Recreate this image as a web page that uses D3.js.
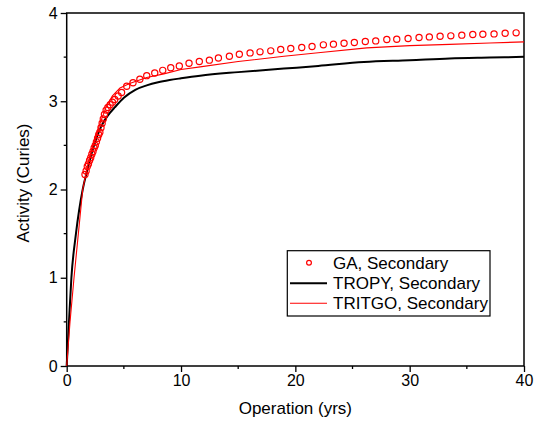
<!DOCTYPE html>
<html>
<head>
<meta charset="utf-8">
<script src="https://cdn.jsdelivr.net/npm/d3@7"></script>
<style>
  body { margin: 0; background: #fff; }
  text { font-family: "Liberation Sans", Arial, sans-serif; fill: #000; }
</style>
</head>
<body>
<svg id="chart" width="536" height="421"></svg>
<script>
// GA, Secondary (circles)
const gaYears = [1.6, 1.7, 1.8, 1.9, 2.0, 2.1, 2.2, 2.3, 2.4, 2.5, 2.6, 2.7, 2.8, 2.9, 3.0, 3.1, 3.2, 3.3, 3.45, 3.6,
  3.8, 4.0, 4.2, 4.5, 4.8, 5.25, 5.8, 6.4, 7.0, 7.7, 8.4, 9.1, 9.85, 10.7, 11.6,
  12.48, 13.27, 14.23, 15.1, 16.04, 16.91, 17.85, 18.72, 19.6, 20.56, 21.46, 22.45, 23.33, 24.26, 25.16,
  26.12, 27.03, 28.0, 28.87, 29.86, 30.82, 31.72, 32.66, 33.6, 34.56, 35.52, 36.4, 37.38, 38.35, 39.31];
const gaActivity = [2.17, 2.21, 2.26, 2.29, 2.33, 2.36, 2.40, 2.43, 2.47, 2.50, 2.54, 2.58, 2.62, 2.65, 2.70, 2.75, 2.80, 2.85, 2.90, 2.93,
  2.96, 2.99, 3.02, 3.06, 3.10, 3.17, 3.21, 3.25, 3.29, 3.32, 3.35, 3.38, 3.40, 3.43, 3.45,
  3.466, 3.49, 3.51, 3.533, 3.548, 3.56, 3.571, 3.586, 3.598, 3.609, 3.62, 3.639, 3.647, 3.658, 3.666,
  3.677, 3.684, 3.70, 3.703, 3.711, 3.722, 3.729, 3.737, 3.741, 3.749, 3.756, 3.76, 3.763, 3.771, 3.775];

// TROPY, Secondary (black line)
const tropyYears = [0, 0.2, 0.41, 0.81, 1.4, 1.8, 2.2, 2.6, 3.0, 3.4, 3.8, 4.2, 5, 6, 7, 8, 9, 10, 11.67, 15, 19, 22, 26, 30, 33.5, 37, 40];
const tropyActivity = [0, 0.5, 1.0, 1.5, 2.0, 2.22, 2.42, 2.58, 2.71, 2.80, 2.87, 2.93, 3.04, 3.13, 3.18, 3.215, 3.24, 3.26, 3.29, 3.33, 3.37, 3.40, 3.445, 3.465, 3.485, 3.495, 3.503];

// TRITGO, Secondary (red line)
const tritgoYears = [0, 0.29, 0.64, 1.02, 1.4, 1.8, 2.2, 2.6, 3.0, 3.5, 4.0, 4.66, 5.5, 7, 8.5, 10, 11.67, 15, 19, 22, 26.25, 30, 33.5, 37, 40];
const tritgoActivity = [0, 0.5, 1.0, 1.5, 2.0, 2.25, 2.45, 2.62, 2.78, 2.95, 3.06, 3.15, 3.2, 3.27, 3.31, 3.36, 3.39, 3.45, 3.51, 3.55, 3.605, 3.63, 3.645, 3.66, 3.673];

const xTicks = [0, 10, 20, 30, 40];
const yTicks = [0, 1, 2, 3, 4];
const legendLabels = ["GA, Secondary", "TROPY, Secondary", "TRITGO, Secondary"];

const W = 536, H = 421;
const margin = { left: 66.7, right: 12, top: 13, bottom: 55 };
const svg = d3.select("#chart");

const x = d3.scaleLinear().domain([0, 40]).range([margin.left, W - margin.right]);
const y = d3.scaleLinear().domain([0, 4]).range([H - margin.bottom, margin.top]);

// frame
svg.append("rect")
  .attr("x", x(0)).attr("y", y(4))
  .attr("width", x(40) - x(0)).attr("height", y(0) - y(4))
  .attr("fill", "none").attr("stroke", "#000").attr("stroke-width", 1.5);

// minor ticks
const gx = svg.append("g");
gx.selectAll("line.minor").data(d3.range(5, 40, 10)).join("line")
  .attr("x1", d => x(d)).attr("x2", d => x(d))
  .attr("y1", y(0)).attr("y2", y(0) + 3)
  .attr("stroke", "#000").attr("stroke-width", 1.3);
const gy = svg.append("g");
gy.selectAll("line.minor").data(d3.range(0.5, 4, 1)).join("line")
  .attr("x1", x(0) - 3).attr("x2", x(0))
  .attr("y1", d => y(d)).attr("y2", d => y(d))
  .attr("stroke", "#000").attr("stroke-width", 1.3);

// axes
const xAxis = svg.append("g")
  .attr("transform", `translate(0,${y(0)})`)
  .call(d3.axisBottom(x).tickValues(xTicks).tickSize(6).tickPadding(3).tickFormat(d3.format("d")));
const yAxis = svg.append("g")
  .attr("transform", `translate(${x(0)},0)`)
  .call(d3.axisLeft(y).tickValues(yTicks).tickSize(6).tickPadding(3).tickFormat(d3.format("d")));
[xAxis, yAxis].forEach(a => {
  a.select(".domain").remove();
  a.selectAll(".tick line").attr("stroke", "#000").attr("stroke-width", 1.3);
  a.selectAll(".tick text").attr("font-size", 16).attr("font-family", "Liberation Sans, Arial, sans-serif").attr("fill", "#000");
});

// axis titles
svg.append("text")
  .attr("x", (x(0) + x(40)) / 2).attr("y", 414)
  .attr("text-anchor", "middle").attr("font-size", 17)
  .text("Operation (yrs)");
svg.append("text")
  .attr("transform", "translate(29,183) rotate(-90)")
  .attr("text-anchor", "middle").attr("font-size", 17)
  .text("Activity (Curies)");

// lines
const line = d3.line().x(d => x(d[0])).y(d => y(d[1]));
svg.append("path")
  .datum(d3.zip(tropyYears, tropyActivity))
  .attr("d", line.curve(d3.curveMonotoneX))
  .attr("fill", "none").attr("stroke", "#000").attr("stroke-width", 2);
svg.append("path")
  .datum(d3.zip(tritgoYears, tritgoActivity))
  .attr("d", line.curve(d3.curveLinear))
  .attr("fill", "none").attr("stroke", "#ff0000").attr("stroke-width", 1.1);

// GA circles
svg.append("g").selectAll("circle")
  .data(d3.zip(gaYears, gaActivity)).join("circle")
  .attr("cx", d => x(d[0])).attr("cy", d => y(d[1])).attr("r", 3.1)
  .attr("fill", "none").attr("stroke", "#ff0000").attr("stroke-width", 1.2);

// legend
const lg = svg.append("g");
lg.append("rect")
  .attr("x", 287.3).attr("y", 250.7).attr("width", 202.7).attr("height", 65.3)
  .attr("fill", "#fff").attr("stroke", "#000").attr("stroke-width", 1.2);
const rowY = [262.7, 283.3, 303.3];
lg.append("circle").attr("cx", 309).attr("cy", rowY[0]).attr("r", 2.4)
  .attr("fill", "none").attr("stroke", "#ff0000").attr("stroke-width", 1.2);
lg.append("line").attr("x1", 290).attr("x2", 327).attr("y1", rowY[1]).attr("y2", rowY[1])
  .attr("stroke", "#000").attr("stroke-width", 2);
lg.append("line").attr("x1", 290).attr("x2", 327).attr("y1", rowY[2]).attr("y2", rowY[2])
  .attr("stroke", "#ff0000").attr("stroke-width", 1.1);
lg.selectAll("text").data(legendLabels).join("text")
  .attr("x", 333).attr("y", (d, i) => rowY[i]).attr("dy", "0.36em")
  .attr("font-size", 17).text(d => d);
</script>
</body>
</html>
